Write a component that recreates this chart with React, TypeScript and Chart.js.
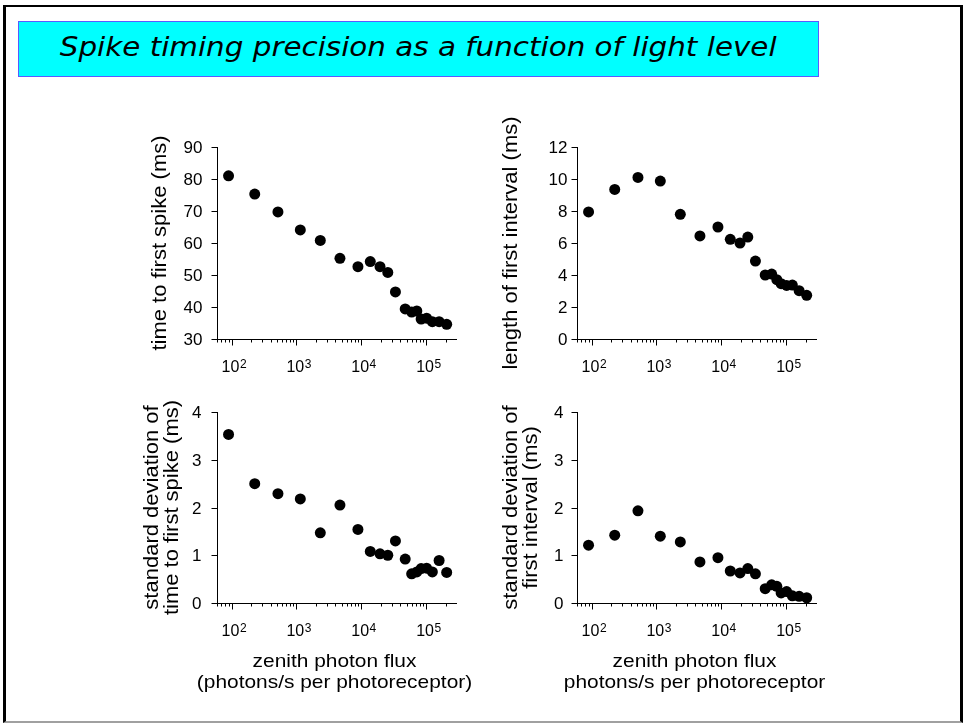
import React, { useEffect, useRef } from "react";
import { Chart, registerables } from "chart.js";
Chart.register(...registerables);

// light levels (zenith photon flux, photons/s per photoreceptor)
const flux = [90, 228, 520, 1150, 2340, 4700, 8900, 13800, 19500, 25700, 33700, 47700, 60000, 72000, 84000, 102000, 125000, 159000, 208000];
// series
const timeToFirstSpike = [81.0, 75.3, 69.7, 64.1, 60.8, 55.2, 52.6, 54.2, 52.6, 50.8, 44.7, 39.4, 38.4, 38.75, 36.25, 36.5, 35.4, 35.4, 34.6];
const firstInterval = [7.94, 9.35, 10.1, 9.87, 7.79, 6.44, 7.0, 6.23, 6.0, 6.37, 4.87, 4.0, 4.06, 3.71, 3.46, 3.35, 3.37, 3.02, 2.73];
const sdFirstSpike = [3.53, 2.5, 2.29, 2.18, 1.47, 2.05, 1.54, 1.08, 1.03, 1.0, 1.3, 0.92, 0.61, 0.65, 0.72, 0.73, 0.65, 0.89, 0.64];
const sdFirstInterval = [1.21, 1.42, 1.93, 1.4, 1.28, 0.86, 0.95, 0.67, 0.63, 0.72, 0.61, 0.3, 0.38, 0.35, 0.21, 0.24, 0.15, 0.14, 0.11];

// ticks
const xDecadeExponents = [2, 3, 4, 5];
const yTicksLatency = [30, 40, 50, 60, 70, 80, 90];
const yTicksInterval = [0, 2, 4, 6, 8, 10, 12];
const yTicksSD = [0, 1, 2, 3, 4];
const X_MIN = 50;
const X_MAX = 300000;
const Y_AXIS_AT = 60;

const FONT = '"Liberation Sans", Arial, Helvetica, sans-serif';
const PAD = { left: 120, right: 30, top: 30, bottom: 100 };

type PanelCfg = {
  area: { l: number; r: number; t: number; b: number };
  values: number[];
  yTicks: number[];
  yTitle: string[];
  yTitleX: number[]; // page x of each title line center
  tickGap: number;
  xTitle?: string[];
};

function drawText(
  ctx: CanvasRenderingContext2D,
  text: string,
  x: number,
  y: number,
  size: number,
  opts: { stretch?: number; rotate?: boolean; align?: CanvasTextAlign; baseline?: CanvasTextBaseline } = {}
) {
  ctx.save();
  ctx.translate(x, y);
  if (opts.rotate) ctx.rotate(-Math.PI / 2);
  ctx.scale(opts.stretch ?? 1, 1);
  ctx.font = `${size}px ${FONT}`;
  ctx.fillStyle = "#000";
  ctx.textAlign = opts.align ?? "left";
  ctx.textBaseline = opts.baseline ?? "alphabetic";
  ctx.fillText(text, 0, 0);
  ctx.restore();
}

function Panel({ cfg }: { cfg: PanelCfg }) {
  const ref = useRef<HTMLCanvasElement>(null);
  const { area } = cfg;
  const cw = area.r - area.l + PAD.left + PAD.right;
  const ch = area.b - area.t + PAD.top + PAD.bottom;
  const cx0 = area.l - PAD.left;
  const cy0 = area.t - PAD.top;

  useEffect(() => {
    if (!ref.current) return;
    const yMin = cfg.yTicks[0];
    const yMax = cfg.yTicks[cfg.yTicks.length - 1];
    const axesPlugin = {
      id: "customAxes",
      beforeDatasetsDraw(chart: any) {
        const ctx: CanvasRenderingContext2D = chart.ctx;
        const xs = chart.scales.x;
        const ys = chart.scales.y;
        const ca = chart.chartArea;
        const axY = Math.round(ca.bottom) + 0.5;
        const axX = Math.round(xs.getPixelForValue(Y_AXIS_AT)) + 0.5;
        ctx.save();
        ctx.strokeStyle = "#000";
        ctx.lineWidth = 1;
        ctx.beginPath();
        // x axis
        ctx.moveTo(ca.left, axY);
        ctx.lineTo(ca.right, axY);
        // y axis
        ctx.moveTo(axX, Math.round(ys.getPixelForValue(yMax)));
        ctx.lineTo(axX, axY);
        // y ticks
        for (const v of cfg.yTicks) {
          const py = Math.round(ys.getPixelForValue(v)) + 0.5;
          ctx.moveTo(axX - 6, py);
          ctx.lineTo(axX, py);
        }
        // x ticks (log)
        for (let e = 1; e <= 5; e++) {
          for (let m = 1; m <= 9; m++) {
            const v = m * Math.pow(10, e);
            if (v < Y_AXIS_AT || v >= X_MAX) continue;
            const px = Math.round(xs.getPixelForValue(v)) + 0.5;
            ctx.moveTo(px, axY);
            ctx.lineTo(px, axY + (m === 1 ? 6 : 3));
          }
        }
        ctx.stroke();
        ctx.restore();

        // y tick labels
        for (const v of cfg.yTicks) {
          const py = ys.getPixelForValue(v);
          drawText(ctx, String(v), axX - cfg.tickGap, py + 6, 17, { align: "right" });
        }
        // x tick labels 10^n
        for (const e of xDecadeExponents) {
          const px = xs.getPixelForValue(Math.pow(10, e));
          ctx.font = `16px ${FONT}`;
          const w1 = ctx.measureText("10").width;
          const sx = px - w1 / 2 - 1;
          const base = ca.bottom + 33;
          drawText(ctx, "10", sx, base, 16);
          drawText(ctx, String(e), sx + w1 + 0.5, base - 4.5, 12);
        }
        // y title
        const midY = (ca.top + ca.bottom) / 2;
        cfg.yTitle.forEach((line, i) => {
          drawText(ctx, line, cfg.yTitleX[i] - cx0, midY, 20, {
            rotate: true,
            stretch: 1.1,
            align: "center",
            baseline: "middle",
          });
        });
        // x title
        if (cfg.xTitle) {
          const cxm = (ca.left + ca.right) / 2;
          cfg.xTitle.forEach((line, i) => {
            drawText(ctx, line, cxm, ca.bottom + 64 + i * 21, 19, { align: "center", stretch: 1.1 });
          });
        }
      },
    };

    const chart = new Chart(ref.current, {
      type: "scatter",
      data: {
        datasets: [
          {
            data: flux.map((x, i) => ({ x, y: cfg.values[i] })),
            pointRadius: 5.5,
            pointBackgroundColor: "#000",
            pointBorderColor: "#000",
            pointBorderWidth: 0,
            showLine: false,
            clip: false as any,
          },
        ],
      },
      options: {
        animation: false,
        responsive: false,
        maintainAspectRatio: false,
        devicePixelRatio: 1,
        events: [],
        layout: { padding: PAD },
        plugins: { legend: { display: false }, tooltip: { enabled: false }, title: { display: false } },
        scales: {
          x: { type: "logarithmic", min: X_MIN, max: X_MAX, display: false },
          y: { type: "linear", min: yMin, max: yMax, display: false },
        },
      },
      plugins: [axesPlugin],
    });
    return () => chart.destroy();
  }, []);

  return (
    <canvas
      ref={ref}
      width={cw}
      height={ch}
      style={{ position: "absolute", left: cx0, top: cy0, width: cw, height: ch }}
    />
  );
}

const panels: PanelCfg[] = [
  {
    area: { l: 212, r: 457, t: 147, b: 339 },
    values: timeToFirstSpike,
    yTicks: yTicksLatency,
    yTitle: ["time to first spike (ms)"],
    yTitleX: [160],
    tickGap: 15,
  },
  {
    area: { l: 572, r: 817, t: 147, b: 339 },
    values: firstInterval,
    yTicks: yTicksInterval,
    yTitle: ["length of first interval (ms)"],
    yTitleX: [511],
    tickGap: 10,
  },
  {
    area: { l: 212, r: 457, t: 412, b: 603 },
    values: sdFirstSpike,
    yTicks: yTicksSD,
    yTitle: ["standard deviation of", "time to first spike (ms)"],
    yTitleX: [152, 172],
    tickGap: 16,
    xTitle: ["zenith photon flux", "(photons/s per photoreceptor)"],
  },
  {
    area: { l: 572, r: 817, t: 412, b: 603 },
    values: sdFirstInterval,
    yTicks: yTicksSD,
    yTitle: ["standard deviation of", "first interval (ms)"],
    yTitleX: [511, 531],
    tickGap: 14,
    xTitle: ["zenith photon flux", "photons/s per photoreceptor"],
  },
];

export default function App() {
  return (
    <div style={{ position: "absolute", left: 0, top: 0, width: 965, height: 723, overflow: "hidden", background: "#fff" }}>
      <div
        style={{
          position: "absolute",
          left: 3,
          top: 5,
          width: 960,
          height: 718,
          boxSizing: "border-box",
          borderTop: "2px solid #000",
          borderLeft: "3px solid #000",
          borderRight: "3px solid #000",
          borderBottom: "2px solid #a0a0a0",
        }}
      />
      <div
        style={{
          position: "absolute",
          left: 18,
          top: 21,
          width: 801,
          height: 56,
          boxSizing: "border-box",
          background: "#00ffff",
          border: "1px solid #5a5aff",
          textAlign: "center",
          lineHeight: "50px",
          fontFamily: '"Comic Sans MS", "DejaVu Sans", sans-serif',
          fontStyle: "italic",
          fontSize: 26,
          color: "#000",
          whiteSpace: "nowrap",
        }}
      >
        <span style={{ display: "inline-block", transform: "scaleX(1.13)" }}>
          Spike timing precision as a function of light level
        </span>
      </div>
      {panels.map((p, i) => (
        <Panel key={i} cfg={p} />
      ))}
    </div>
  );
}
